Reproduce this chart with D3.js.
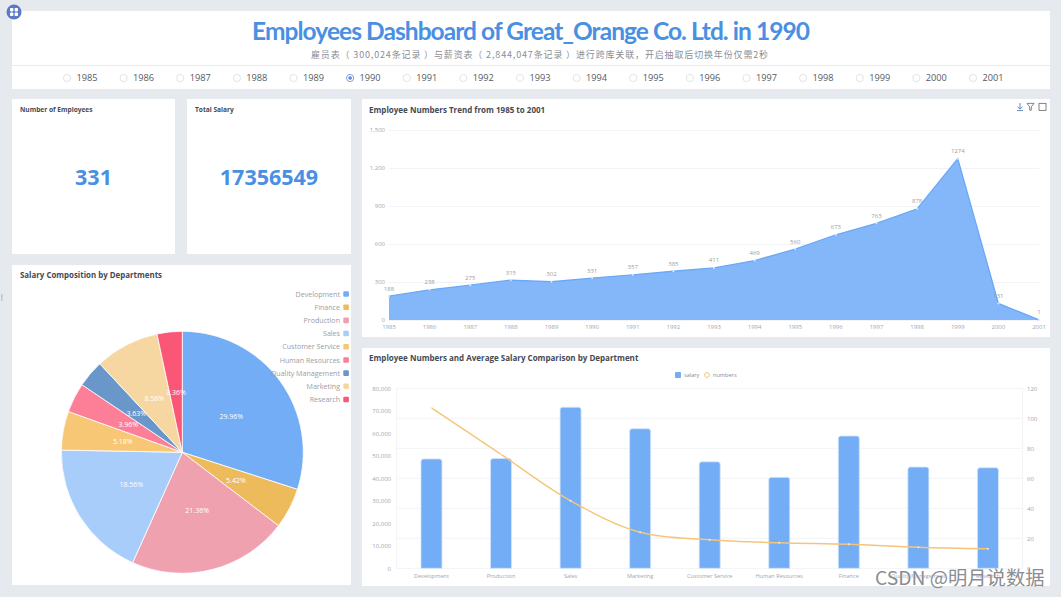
<!DOCTYPE html>
<html>
<head>
<meta charset="utf-8">
<script src="https://cdn.jsdelivr.net/npm/d3@7/dist/d3.min.js"></script>
<style>
  html, body { margin: 0; padding: 0; background: #e6e9ed; overflow: hidden; }
  svg { display: block; font-family: "Open Sans", "Noto Sans CJK SC", sans-serif; }
</style>
</head>
<body>
<svg id="board" width="1061" height="597"></svg>
<script>
// Year selector and headline figures
const years = [1985,1986,1987,1988,1989,1990,1991,1992,1993,1994,1995,1996,1997,1998,1999,2000,2001];
const selectedYear = 1990;
const employeeCount = 331;
const totalSalary = 17356549;

// Employee trend
const trendValues = [188,238,275,315,302,331,357,385,411,469,560,673,763,878,1274,131,1];
const trendTicks = [0,300,600,900,1200,1500];

// Salary composition
const pieDepartments = ["Development","Finance","Production","Sales","Customer Service","Human Resources","Quality Management","Marketing","Research"];
const pieShares = [29.96,5.42,21.36,18.56,5.18,3.96,3.63,8.58,3.36];
const pieColors = ["#73adf5","#eebb5c","#f0a1b0","#a9cdfb","#f7c775","#fd7e97","#6a97c9","#f6d7a2","#fa5676"];

// Department comparison
const barDepartments = ["Development","Production","Sales","Marketing","Customer Service","Human Resources","Finance","Quality Management","Research"];
const avgSalary = [48597,48781,71586,62050,47319,40431,58795,45003,44700];
const headcount = [107,76,45,24,19,17,16,14,13];
const salaryTicks = [0,10000,20000,30000,40000,50000,60000,70000,80000];
const headcountTicks = [0,20,40,60,80,100,120];

const svg = d3.select("#board");
const blue = "#4a90e2", grey = "#a3a6ad", grid = "#f2f3f6", titleInk = "#444a54";
const cjk = "'Noto Sans CJK SC', sans-serif";

// White panels
const panels = [[12,11,1038,78],[12,99,163,155],[187,99,164,155],[12,265,339,320],[362,99,688,238],[362,348,688,238]];
svg.append("g").selectAll("rect").data(panels).join("rect")
  .attr("x", d => d[0]).attr("y", d => d[1]).attr("width", d => d[2]).attr("height", d => d[3]).attr("fill", "#fff");

// Header
svg.append("text").attr("x", 531).attr("y", 40).attr("text-anchor", "middle")
  .attr("font-size", 24.5).attr("font-weight", 700).attr("fill", blue).attr("font-family", "Lato, sans-serif")
  .attr("textLength", 558).attr("lengthAdjust", "spacing")
  .text(`Employees Dashboard of Great_Orange Co. Ltd. in ${selectedYear}`);
svg.append("text").attr("x", 540).attr("y", 57.5).attr("text-anchor", "middle")
  .attr("font-size", 9).attr("fill", "#8b8e94").attr("letter-spacing", 0.85).attr("font-family", cjk)
  .attr("xml:space", "preserve")
  .text("雇员表（ 300,024条记录 ）与薪资表（ 2,844,047条记录 ）进行跨库关联，开启抽取后切换年份仅需2秒");
svg.append("line").attr("x1", 12).attr("x2", 1050).attr("y1", 65.5).attr("y2", 65.5).attr("stroke", "#e8eaee");

// Year radio row
const radioX = d3.scalePoint().domain(years).range([67, 973]);
const radios = svg.append("g").selectAll("g").data(years).join("g")
  .attr("transform", d => `translate(${radioX(d)},78)`);
radios.append("circle").attr("r", 3.6).attr("fill", "#fff")
  .attr("stroke", d => d === selectedYear ? "#7f9fe0" : "#e2e4e8");
radios.filter(d => d === selectedYear).append("circle").attr("r", 1.8).attr("fill", "#5b83d8");
radios.append("text").attr("x", 20).attr("y", 3).attr("text-anchor", "middle")
  .attr("font-size", 9.2).attr("fill", "#555a62").text(d => d);

// Dashboard menu badge
const badge = svg.append("g").attr("transform", "translate(14,12)");
badge.append("circle").attr("r", 7.5).attr("fill", "#5c79c4");
badge.selectAll("rect").data([[-4,-4],[0.6,-4],[-4,0.6],[0.6,0.6]]).join("rect")
  .attr("x", d => d[0]).attr("y", d => d[1]).attr("width", 3.4).attr("height", 3.4).attr("rx", 0.8).attr("fill", "#fff");

// Side handle
svg.append("rect").attr("x", 1).attr("y", 294).attr("width", 1.5).attr("height", 7).attr("fill", "#c4c8ce");

// Panel titles
const titles = [
  ["Number of Employees", 20, 112, 6.6],
  ["Total Salary", 195, 112, 6.6],
  ["Salary Composition by Departments", 20, 278, 7.9],
  ["Employee Numbers Trend from 1985 to 2001", 369, 113, 8],
  ["Employee Numbers and Average Salary Comparison by Department", 369, 361, 8]
];
svg.append("g").selectAll("text").data(titles).join("text")
  .attr("x", d => d[1]).attr("y", d => d[2]).attr("font-size", d => d[3])
  .attr("font-weight", 700).attr("fill", titleInk).text(d => d[0]);

// Headline figures
svg.append("g").selectAll("text").data([[employeeCount, 93.5],[totalSalary, 269]]).join("text")
  .attr("x", d => d[1]).attr("y", 185).attr("text-anchor", "middle")
  .attr("font-size", 21.5).attr("font-weight", 700).attr("fill", blue).text(d => d[0]);

// Toolbar glyphs on the trend panel
const tools = svg.append("g").attr("fill", "none").attr("stroke-width", 0.9);
tools.append("path").attr("d", "M1020 103v6M1017.6 106.6l2.4 2.6 2.4-2.6M1017 110.6h6").attr("stroke", "#5b7bb8");
tools.append("path").attr("d", "M1027 103.4h7l-2.7 3.4v3.4h-1.6v-3.4z").attr("stroke", "#777");
tools.append("rect").attr("x", 1039).attr("y", 103.4).attr("width", 7).attr("height", 7).attr("stroke", "#777");

// Trend chart
const tx = d3.scalePoint().domain(years).range([389, 1039]);
const ty = d3.scaleLinear().domain([0, 1500]).range([320, 130]);
const trend = svg.append("g");
trend.append("g").selectAll("line").data(trendTicks).join("line")
  .attr("x1", 389).attr("x2", 1039).attr("y1", d => ty(d) + .5).attr("y2", d => ty(d) + .5).attr("stroke", grid);
trend.append("g").selectAll("text").data(trendTicks).join("text")
  .attr("x", 385).attr("y", d => ty(d) + 2.2).attr("text-anchor", "end").attr("font-size", 6).attr("fill", grey)
  .text(d => d3.format(",")(d));
trend.append("g").selectAll("text").data(years).join("text")
  .attr("x", d => tx(d)).attr("y", 329).attr("text-anchor", "middle").attr("font-size", 6).attr("fill", grey).text(d => d);
trend.append("path").datum(trendValues)
  .attr("d", d3.area().x((d, i) => tx(years[i])).y0(ty(0)).y1(d => ty(d))).attr("fill", "#84b7fa");
trend.append("path").datum(trendValues)
  .attr("d", d3.line().x((d, i) => tx(years[i])).y(d => ty(d))).attr("fill", "none").attr("stroke", "#6aa8f6").attr("stroke-width", 1.3);
trend.append("g").selectAll("circle").data(trendValues).join("circle")
  .attr("cx", (d, i) => tx(years[i])).attr("cy", d => ty(d)).attr("r", 1).attr("fill", "#d9e9fd");
trend.append("g").selectAll("text").data(trendValues).join("text")
  .attr("x", (d, i) => tx(years[i])).attr("y", d => ty(d) - 5.5).attr("text-anchor", "middle")
  .attr("font-size", 6).attr("fill", "#9a9da3").text(d => d);

// Salary pie
const pieCentre = [182.3, 452.3], pieRadius = 121;
const arcs = d3.pie().sort(null).value(d => d)(pieShares);
const arcPath = d3.arc().innerRadius(0).outerRadius(pieRadius);
const labelArc = d3.arc().innerRadius(pieRadius / 2).outerRadius(pieRadius / 2);
const pie = svg.append("g").attr("transform", `translate(${pieCentre})`);
pie.selectAll("path").data(arcs).join("path")
  .attr("d", arcPath).attr("fill", (d, i) => pieColors[i]).attr("stroke", "#fff").attr("stroke-width", 0.8);
pie.selectAll("text").data(arcs).join("text")
  .attr("transform", d => `translate(${labelArc.centroid(d)})`).attr("y", 2.5)
  .attr("text-anchor", "middle").attr("font-size", 7).attr("fill", "#fff").text(d => d.value.toFixed(2) + "%");

const pieRow = d3.scalePoint().domain(pieDepartments).range([294, 399.5]);
const pieLegend = svg.append("g").selectAll("g").data(pieDepartments).join("g")
  .attr("transform", d => `translate(340,${pieRow(d)})`);
pieLegend.append("text").attr("y", 2.6).attr("text-anchor", "end").attr("font-size", 7.1).attr("fill", "#9a9da3").text(d => d);
pieLegend.append("rect").attr("x", 3.3).attr("y", -2.8).attr("width", 5.6).attr("height", 5.6).attr("rx", 1)
  .attr("fill", (d, i) => pieColors[i]);

// Department comparison chart
const bx = d3.scaleBand().domain(barDepartments).range([396.7, 1022.7]);
const by = d3.scaleLinear().domain([0, 80000]).range([568.3, 388.3]);
const ny = d3.scaleLinear().domain([0, 120]).range([568.3, 388.3]);
const combo = svg.append("g");
combo.append("g").selectAll("line").data(headcountTicks).join("line")
  .attr("x1", 396.7).attr("x2", 1022.7).attr("y1", d => ny(d)).attr("y2", d => ny(d)).attr("stroke", grid);
combo.append("path").attr("d", "M396.7 388.3V568.3M1022.7 388.3V568.3").attr("stroke", grid).attr("fill", "none");
combo.append("g").selectAll("text").data(salaryTicks).join("text")
  .attr("x", 391).attr("y", d => by(d) + 2.2).attr("text-anchor", "end").attr("font-size", 6).attr("fill", grey)
  .text(d => d3.format(",")(d));
combo.append("g").selectAll("text").data(headcountTicks).join("text")
  .attr("x", 1027).attr("y", d => ny(d) + 2.2).attr("font-size", 6).attr("fill", grey).text(d => d);
combo.append("g").selectAll("text").data(barDepartments).join("text")
  .attr("x", d => bx(d) + bx.bandwidth() / 2).attr("y", 577.5).attr("text-anchor", "middle")
  .attr("font-size", 5.6).attr("fill", grey).text(d => d);

const barW = 21;
const barPath = (x, top, bottom) => {
  const r = 2.5;
  return `M${x} ${bottom}V${top + r}Q${x} ${top} ${x + r} ${top}H${x + barW - r}Q${x + barW} ${top} ${x + barW} ${top + r}V${bottom}Z`;
};
combo.append("g").selectAll("path").data(avgSalary).join("path")
  .attr("d", (d, i) => barPath(bx(barDepartments[i]) + (bx.bandwidth() - barW) / 2, by(d), by(0)))
  .attr("fill", "#73adf5").attr("stroke", "#d3e5fc").attr("stroke-width", 0.8);
combo.append("path").datum(headcount)
  .attr("d", d3.line().curve(d3.curveCatmullRom).x((d, i) => bx(barDepartments[i]) + bx.bandwidth() / 2).y(d => ny(d)))
  .attr("fill", "none").attr("stroke", "#f5c57a").attr("stroke-width", 1.4);
combo.append("g").selectAll("circle").data(headcount).join("circle")
  .attr("cx", (d, i) => bx(barDepartments[i]) + bx.bandwidth() / 2).attr("cy", d => ny(d)).attr("r", 1).attr("fill", "#fbe8c8");

// Comparison legend
const legend = svg.append("g");
legend.append("rect").attr("x", 675).attr("y", 372).attr("width", 6).attr("height", 6).attr("rx", 1).attr("fill", "#73adf5");
legend.append("circle").attr("cx", 707).attr("cy", 375).attr("r", 2.4).attr("fill", "#fff").attr("stroke", "#f5c57a");
legend.selectAll("text").data([["salary", 684],["numbers", 713]]).join("text")
  .attr("x", d => d[1]).attr("y", 377).attr("font-size", 5.6).attr("fill", "#888b91").text(d => d[0]);

// Site watermark
svg.append("text").attr("x", 875).attr("y", 584.5).attr("font-size", 19.3).attr("fill", "#8a8d92")
  .attr("stroke", "#fff").attr("stroke-width", 0.5).attr("paint-order", "stroke")
  .attr("font-family", cjk).text("CSDN @明月说数据");
</script>
</body>
</html>
